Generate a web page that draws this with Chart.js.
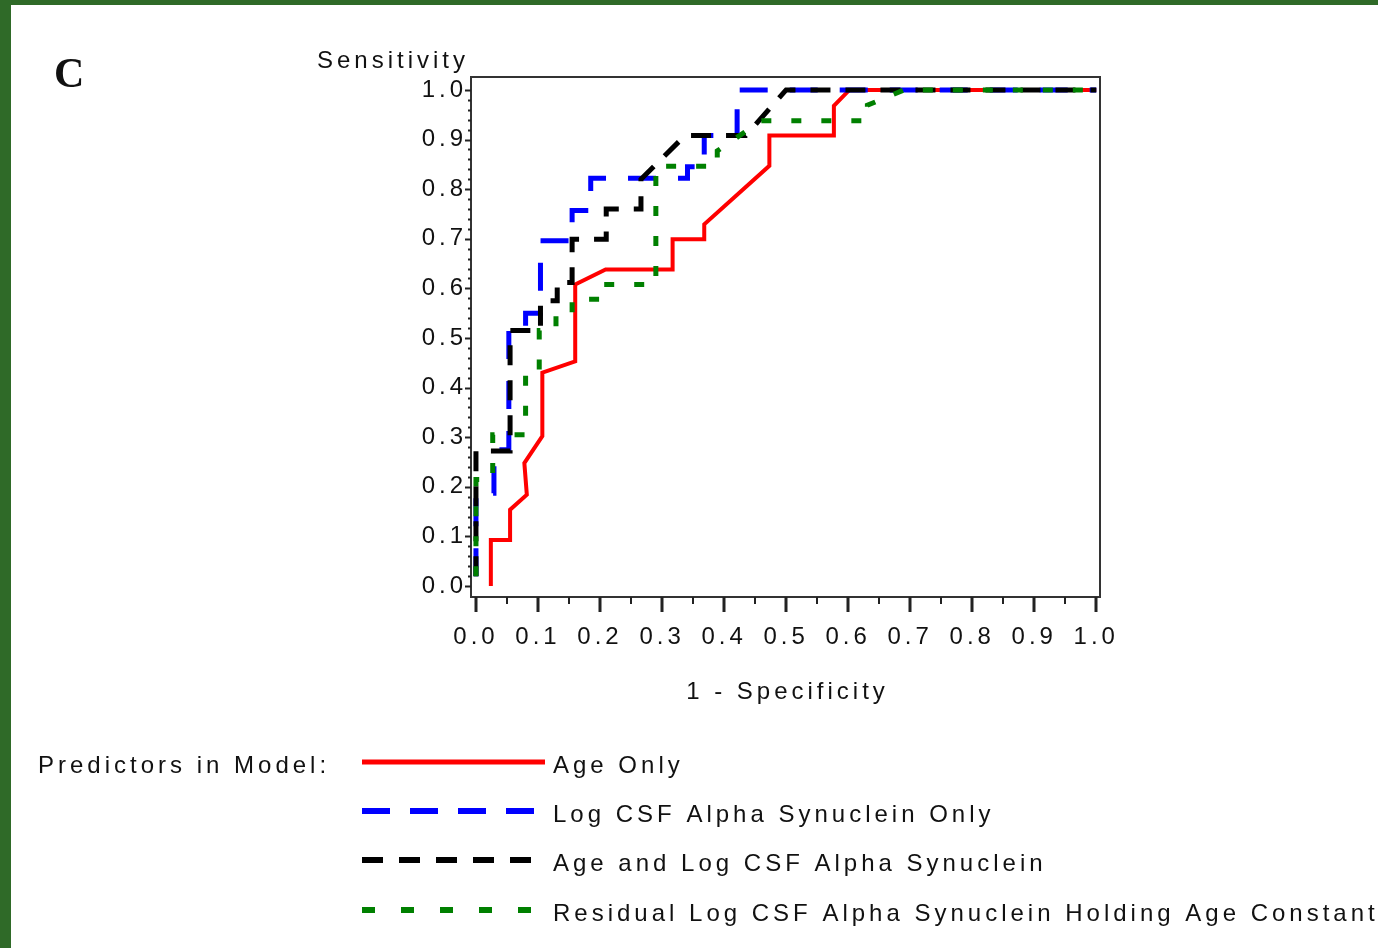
<!DOCTYPE html>
<html>
<head>
<meta charset="utf-8">
<script src="https://cdn.jsdelivr.net/npm/chart.js@4"></script>
<style>
  html, body { margin: 0; padding: 0; }
  body { width: 1378px; height: 948px; background: #2f6a28; position: relative; overflow: hidden; }
  #panel { position: absolute; left: 11px; top: 5px; right: 0; bottom: 0; background: #ffffff; }
  #rocChart { position: absolute; left: 0; top: 0; }
</style>
</head>
<body>
<div id="panel"></div>
<canvas id="rocChart" width="1378" height="948"></canvas>
<script>
// ROC curves (x = 1 - specificity, y = sensitivity)
const ageOnlyX = [0.024, 0.024, 0.055, 0.055, 0.082, 0.078, 0.107, 0.107, 0.16, 0.16, 0.209, 0.317, 0.317, 0.368, 0.368, 0.473, 0.473, 0.577, 0.577, 0.602, 1.0];
const ageOnlyY = [0.0, 0.093, 0.093, 0.154, 0.184, 0.248, 0.302, 0.43, 0.453, 0.608, 0.638, 0.638, 0.699, 0.699, 0.729, 0.847, 0.908, 0.908, 0.968, 1.0, 1.0];

const csfOnlyX = [0, 0, 0.029, 0.029, 0.053, 0.053, 0.08, 0.08, 0.104, 0.104, 0.155, 0.155, 0.185, 0.185, 0.341, 0.341, 0.368, 0.368, 0.421, 0.421, 1.0];
const csfOnlyY = [0.02, 0.187, 0.187, 0.275, 0.275, 0.515, 0.515, 0.55, 0.55, 0.696, 0.696, 0.757, 0.757, 0.822, 0.822, 0.845, 0.845, 0.908, 0.908, 1.0, 1.0];

const ageCsfX = [0, 0, 0.055, 0.055, 0.104, 0.104, 0.131, 0.131, 0.155, 0.155, 0.21, 0.21, 0.266, 0.266, 0.337, 0.435, 0.5, 1.0];
const ageCsfY = [0.02, 0.272, 0.272, 0.515, 0.515, 0.575, 0.575, 0.612, 0.612, 0.699, 0.699, 0.76, 0.76, 0.82, 0.908, 0.908, 1.0, 1.0];

const residualX = [0, 0, 0.027, 0.027, 0.08, 0.08, 0.102, 0.102, 0.129, 0.129, 0.155, 0.155, 0.205, 0.205, 0.29, 0.29, 0.389, 0.389, 0.46, 0.631, 0.631, 0.69, 1.0];
const residualY = [0.02, 0.215, 0.215, 0.305, 0.305, 0.425, 0.425, 0.515, 0.515, 0.545, 0.545, 0.578, 0.578, 0.608, 0.608, 0.846, 0.846, 0.877, 0.938, 0.938, 0.969, 1.0, 1.0];

const seriesNames = [
  'Age Only',
  'Log CSF Alpha Synuclein Only',
  'Age and Log CSF Alpha Synuclein',
  'Residual Log CSF Alpha Synuclein Holding Age Constant'
];

const xTickValues = [0, 0.1, 0.2, 0.3, 0.4, 0.5, 0.6, 0.7, 0.8, 0.9, 1.0];
const xMinorTicks = [0.05, 0.15, 0.25, 0.35, 0.45, 0.55, 0.65, 0.75, 0.85, 0.95];
const yTickValues = [0, 0.1, 0.2, 0.3, 0.4, 0.5, 0.6, 0.7, 0.8, 0.9, 1.0];
const yMinorTicks = [];
for (let i = 1; i < 50; i++) if (i % 5 !== 0) yMinorTicks.push(i / 50);

const xTitle = '1 - Specificity';
const yTitle = 'Sensitivity';
const panelLetter = 'C';
const legendTitle = 'Predictors in Model:';

const toPoints = (xs, ys) => xs.map((x, i) => ({ x: x, y: ys[i] }));

const textFont = '24px "Liberation Sans", Arial, sans-serif';
const spacing = '4px';

// draws the frame, minor ticks, titles and the legend block under the plot
const decorations = {
  id: 'decorations',
  beforeDraw(chart) {
    chart.ctx.letterSpacing = spacing;
  },
  afterDraw(chart) {
    const ctx = chart.ctx;
    const area = chart.chartArea;
    const xs = chart.scales.x;
    const ys = chart.scales.y;
    ctx.save();
    ctx.letterSpacing = spacing;

    // frame
    ctx.strokeStyle = '#333';
    ctx.lineWidth = 2;
    ctx.strokeRect(area.left, area.top, area.right - area.left, area.bottom - area.top);

    // ticks
    ctx.strokeStyle = '#222';
    ctx.lineWidth = 2;
    ctx.beginPath();
    yMinorTicks.forEach(v => {
      const p = Math.round(ys.getPixelForValue(v)) + 0.5;
      ctx.moveTo(area.left - 3, p); ctx.lineTo(area.left, p);
    });
    yTickValues.forEach(v => {
      const p = Math.round(ys.getPixelForValue(v)) + 0.5;
      ctx.moveTo(area.left - 6, p); ctx.lineTo(area.left, p);
    });
    xMinorTicks.forEach(v => {
      const p = Math.round(xs.getPixelForValue(v));
      ctx.moveTo(p, area.bottom); ctx.lineTo(p, area.bottom + 7);
    });
    ctx.stroke();
    ctx.lineWidth = 3;
    ctx.beginPath();
    xTickValues.forEach(v => {
      const p = Math.round(xs.getPixelForValue(v));
      ctx.moveTo(p, area.bottom); ctx.lineTo(p, area.bottom + 15);
    });
    ctx.stroke();

    // axis titles
    ctx.fillStyle = '#111';
    ctx.font = textFont;
    ctx.textBaseline = 'middle';
    ctx.textAlign = 'right';
    ctx.fillText(yTitle, area.left - 2, 61);
    ctx.textAlign = 'center';
    ctx.fillText(xTitle, (area.left + area.right) / 2 + 2, 692);

    // panel letter
    ctx.letterSpacing = '0px';
    ctx.font = 'bold 42px "Liberation Serif", "Times New Roman", serif';
    ctx.textAlign = 'left';
    ctx.fillText(panelLetter, 54, 76);

    // legend
    ctx.letterSpacing = spacing;
    ctx.font = textFont;
    ctx.fillText(legendTitle, 38, 766);
    const rowY = [762, 811, 860, 910];
    chart.data.datasets.forEach((ds, i) => {
      const y = rowY[i];
      ctx.save();
      ctx.strokeStyle = ds.borderColor;
      ctx.lineWidth = ds.legendWidth;
      ctx.setLineDash(ds.legendDash);
      ctx.beginPath();
      ctx.moveTo(362, y);
      ctx.lineTo(ds.legendEnd, y);
      ctx.stroke();
      ctx.restore();
      ctx.fillStyle = '#111';
      ctx.textAlign = 'left';
      ctx.fillText(ds.label, 553, y + 4);
    });
    ctx.restore();
  }
};

const ctx = document.getElementById('rocChart').getContext('2d');
const rocChart = new Chart(ctx, {
  type: 'scatter',
  data: {
    datasets: [
      {
        label: seriesNames[0],
        data: toPoints(ageOnlyX, ageOnlyY),
        borderColor: '#ff0000',
        borderWidth: 4,
        borderDash: [],
        legendDash: [],
        legendWidth: 5,
        legendEnd: 545,
        order: 4
      },
      {
        label: seriesNames[1],
        data: toPoints(csfOnlyX, csfOnlyY),
        borderColor: '#0000ff',
        borderWidth: 5,
        borderDash: [28, 22],
        legendDash: [28, 20],
        legendWidth: 6,
        legendEnd: 534,
        order: 3
      },
      {
        label: seriesNames[2],
        data: toPoints(ageCsfX, ageCsfY),
        borderColor: '#000000',
        borderWidth: 5,
        borderDash: [20, 15],
        legendDash: [21, 16],
        legendWidth: 6,
        legendEnd: 534,
        order: 2
      },
      {
        label: seriesNames[3],
        data: toPoints(residualX, residualY),
        borderColor: '#008000',
        borderWidth: 5,
        borderDash: [10, 20],
        legendDash: [13, 26],
        legendWidth: 6,
        legendEnd: 534,
        order: 1
      }
    ]
  },
  options: {
    responsive: false,
    animation: false,
    devicePixelRatio: 1,
    showLine: true,
    elements: {
      point: { radius: 0, hoverRadius: 0 },
      line: { tension: 0, borderCapStyle: 'butt', borderJoinStyle: 'miter' }
    },
    layout: { padding: { left: 0, top: 77, right: 278, bottom: 0 } },
    plugins: {
      legend: { display: false },
      tooltip: { enabled: false },
      title: { display: false }
    },
    scales: {
      x: {
        type: 'linear',
        position: 'bottom',
        min: -0.008,
        max: 1.006,
        afterBuildTicks: axis => { axis.ticks = xTickValues.map(v => ({ value: v })); },
        afterFit: scale => { scale.height = 351; },
        grid: { display: false, drawTicks: false },
        border: { display: false },
        ticks: {
          padding: 26,
          color: '#111',
          font: { family: '"Liberation Sans", Arial, sans-serif', size: 24 },
          maxRotation: 0,
          autoSkip: false,
          callback: v => v.toFixed(1)
        }
      },
      y: {
        type: 'linear',
        position: 'left',
        min: -0.022,
        max: 1.026,
        afterBuildTicks: axis => { axis.ticks = yTickValues.map(v => ({ value: v })); },
        afterFit: scale => { scale.width = 471; },
        grid: { display: false, drawTicks: false },
        border: { display: false },
        ticks: {
          padding: 4,
          color: '#111',
          font: { family: '"Liberation Sans", Arial, sans-serif', size: 24 },
          autoSkip: false,
          callback: v => v.toFixed(1)
        }
      }
    }
  },
  plugins: [decorations]
});
</script>
</body>
</html>
